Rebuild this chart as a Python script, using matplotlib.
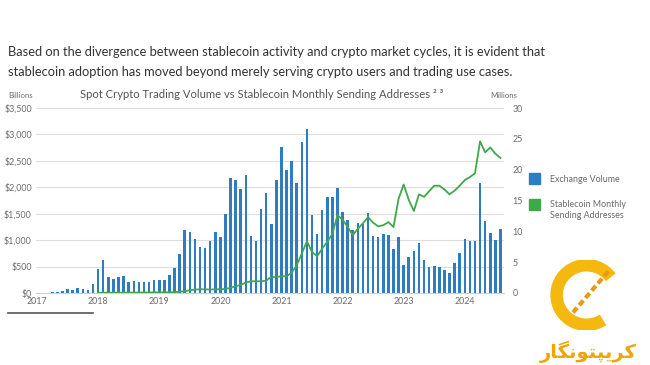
import numpy as np
import matplotlib
matplotlib.use("Agg")
import matplotlib.pyplot as plt
from matplotlib.patches import Arc, Rectangle

# ---------------- data (monthly, Jan 2017 .. Aug 2024) ----------------
years = ["2017", "2018", "2019", "2020", "2021", "2022", "2023", "2024"]

# spot exchange volume, $ billions
vol_2017 = [5, 5, 8, 10, 15, 45, 70, 55, 90, 75, 65, 165]
vol_2018 = [460, 620, 305, 260, 300, 315, 215, 235, 200, 215, 200, 240]
vol_2019 = [240, 250, 335, 465, 745, 1200, 1150, 1015, 870, 850, 985, 1145]
vol_2020 = [1060, 1490, 2180, 2140, 1965, 2225, 1085, 980, 1585, 1890, 1300, 2130]
vol_2021 = [2765, 2320, 2495, 2085, 2860, 3095, 1470, 1125, 1565, 1825, 1825, 1990]
vol_2022 = [1535, 1390, 1190, 1325, 1310, 1515, 1075, 1055, 1110, 1090, 840, 1060]
vol_2023 = [525, 680, 800, 945, 630, 490, 510, 490, 430, 385, 560, 765]
vol_2024 = [1025, 990, 990, 2085, 1360, 1130, 1000, 1220]
volume = vol_2017 + vol_2018 + vol_2019 + vol_2020 + vol_2021 + vol_2022 + vol_2023 + vol_2024

# stablecoin monthly sending addresses, millions (starts Jan 2018)
addr_2018 = [0.05, 0.05, 0.05, 0.05, 0.05, 0.05, 0.06, 0.06, 0.07, 0.08, 0.08, 0.1]
addr_2019 = [0.1, 0.1, 0.1, 0.15, 0.2, 0.3, 0.45, 0.55, 0.6, 0.6, 0.55, 0.6]
addr_2020 = [0.6, 0.65, 0.85, 1.1, 1.3, 1.7, 1.9, 1.9, 1.9, 2.0, 2.6, 2.6]
addr_2021 = [2.7, 2.7, 3.3, 4.5, 6.4, 8.4, 6.65, 5.95, 7.2, 8.3, 9.6, 12.6]
addr_2022 = [11.9, 10.7, 9.4, 10.4, 11.3, 12.3, 11.4, 10.8, 11.0, 11.5, 10.7, 15.3]
addr_2023 = [17.6, 15.1, 13.3, 16.0, 15.6, 16.5, 17.4, 17.4, 16.8, 16.0, 16.6, 17.4]
addr_2024 = [18.3, 18.8, 19.4, 24.6, 22.8, 23.6, 22.6, 21.9]
addresses = addr_2018 + addr_2019 + addr_2020 + addr_2021 + addr_2022 + addr_2023 + addr_2024

header = ("Based on the divergence between stablecoin activity and crypto market cycles, it is evident that\n"
          "stablecoin adoption has moved beyond merely serving crypto users and trading use cases.")
title = "Spot Crypto Trading Volume vs Stablecoin Monthly Sending Addresses \u00b2 \u00b3"

BLUE = "#2f7dc0"
GREEN = "#3fa84a"
GREY = "#6b6b6b"

plt.rcParams["font.family"] = ["Lato", "DejaVu Sans"]

fig = plt.figure(figsize=(6.5, 3.65), dpi=100)
ax = fig.add_axes([36 / 650, 72 / 365, 468 / 650, 185 / 365])
ax2 = ax.twinx()

months = np.arange(len(volume))
ax.bar(months, volume, width=0.5, color=BLUE, zorder=2)
ax2.plot(np.arange(12, 12 + len(addresses)), addresses, color=GREEN, lw=1.3, zorder=3)

ax.set_xlim(-0.2, 91.7)
ax.set_ylim(0, 3500)
ax2.set_ylim(0, 30)
ax.set_yticks(np.arange(0, 3501, 500))
ax.set_yticklabels(["${:,}".format(v) for v in range(0, 3501, 500)])
ax2.set_yticks(np.arange(0, 31, 5))
ax.set_xticks(np.arange(0, 85, 12))
ax.set_xticklabels(years)

ax.grid(axis="y", color="#dedede", lw=0.8, zorder=0)
ax.set_axisbelow(True)
for a in (ax, ax2):
    for s in a.spines.values():
        s.set_visible(False)
    a.tick_params(length=0, labelsize=6.4, colors=GREY)
ax.tick_params(axis="y", pad=3)
ax.tick_params(axis="x", pad=3)
ax2.tick_params(axis="y", pad=6)
ax.spines["bottom"].set_visible(True)
ax.spines["bottom"].set_color("#cfcfcf")
ax.spines["bottom"].set_linewidth(0.8)

# texts
fig.text(8 / 650, 1 - 46 / 365, header, fontsize=9.3, color="#333333",
         va="top", ha="left", linespacing=1.85)
fig.text(262 / 650, 1 - 95 / 365, title, fontsize=8.1, color="#555555", ha="center", va="center")
fig.text(8 / 650, 1 - 95 / 365, "Billions", fontsize=5.6, color=GREY, va="center")
fig.text(490 / 650, 1 - 95 / 365, "Millions", fontsize=5.6, color=GREY, va="center")

# legend
fig.patches.append(Rectangle((529 / 650, 1 - 184 / 365), 11 / 650, 11 / 365,
                             transform=fig.transFigure, color=BLUE))
fig.patches.append(Rectangle((529 / 650, 1 - 210 / 365), 11 / 650, 11 / 365,
                             transform=fig.transFigure, color=GREEN))
fig.text(550 / 650, 1 - 179 / 365, "Exchange Volume", fontsize=6.4, color=GREY, va="center")
fig.text(550 / 650, 1 - 210 / 365, "Stablecoin Monthly\nSending Addresses", fontsize=6.4,
         color=GREY, va="center", linespacing=1.35)

# short rule under the chart
fig.add_artist(plt.Line2D([8 / 650, 93 / 650], [1 - 313 / 365, 1 - 313 / 365],
                          transform=fig.transFigure, color="#555555", lw=1.2))

# watermark logo
logo = fig.add_axes([545 / 650, 1 - 330 / 365, 80 / 650, 70 / 365])
logo.set_xlim(0, 1)
logo.set_ylim(0, 1)
logo.axis("off")
logo.add_patch(Arc((0.52, 0.5), 0.75, 0.85, theta1=40, theta2=300, lw=9, color="#f5b80f"))
logo.plot([0.35, 0.8], [0.25, 0.85], color="#e89a10", lw=3, ls=(0, (1.5, 0.8)))
fig.text(588 / 650, 1 - 352 / 365, "\ufead\ufe8e\ufb95\ufee7\ufeee\ufe98\ufb59\ufbfe\ufeae\ufb90",
         fontsize=14, color="#f0a500", ha="center", va="center", family="DejaVu Sans",
         fontweight="bold")

fig.savefig("out.png", dpi=100)
